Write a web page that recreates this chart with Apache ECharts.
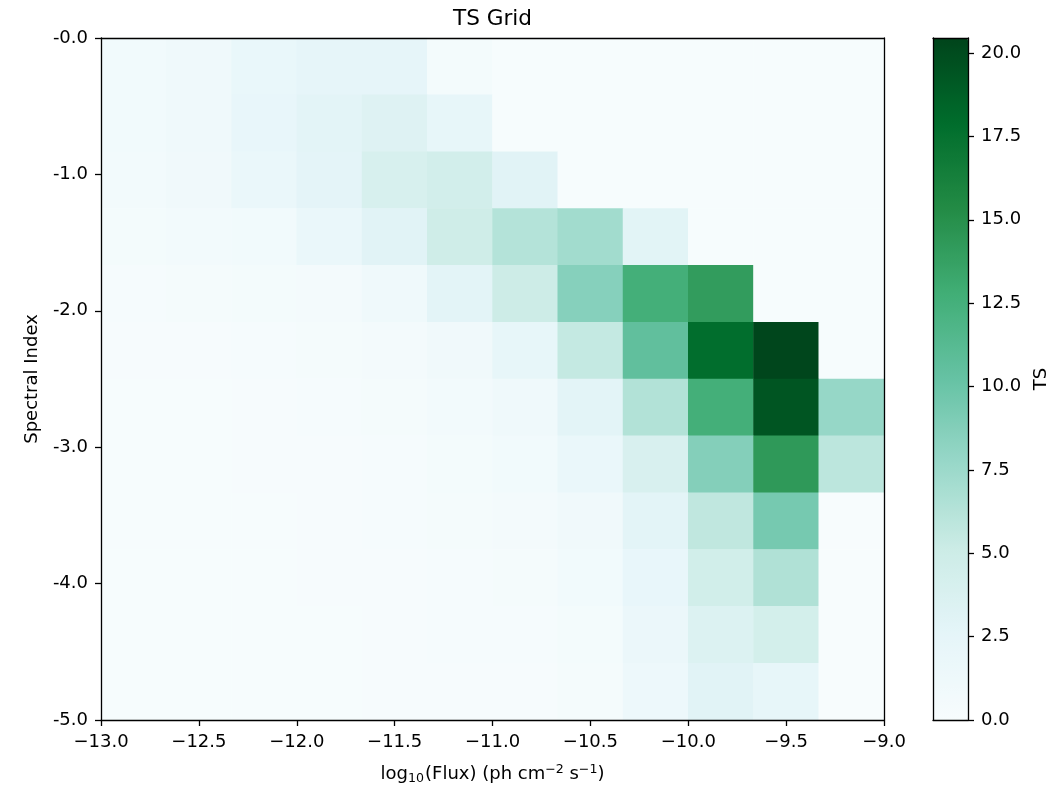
<!DOCTYPE html>
<html>
<head>
<meta charset="utf-8">
<script src="https://cdn.jsdelivr.net/npm/echarts@6/dist/echarts.min.js"></script>
<style>
  html, body { margin: 0; padding: 0; background: #fff; }
  #chart { width: 1055px; height: 787px; }
</style>
</head>
<body>
<div id="chart"></div>
<script>
// cell centres (log10 flux, spectral index)
const fluxBins = ['-12.83', '-12.50', '-12.17', '-11.83', '-11.50', '-11.17',
                  '-10.83', '-10.50', '-10.17', '-9.83', '-9.50', '-9.17'];
const indexBins = ['-0.21', '-0.63', '-1.04', '-1.46', '-1.88', '-2.29',
                   '-2.71', '-3.13', '-3.54', '-3.96', '-4.38', '-4.79'];

// TS values, one row per spectral index bin (top to bottom)
const tsRow0  = [0.8, 1.2, 2.0, 2.4, 2.4, 0.5, 0.1, 0.1, 0.1, 0.1, 0.1, 0.1];
const tsRow1  = [0.8, 1.2, 2.2, 2.8, 3.3, 2.3, 0.1, 0.1, 0.1, 0.1, 0.1, 0.1];
const tsRow2  = [0.7, 1.0, 1.8, 2.7, 4.0, 4.5, 3.0, 0.1, 0.1, 0.1, 0.1, 0.1];
const tsRow3  = [0.5, 0.7, 0.9, 1.8, 3.0, 4.8, 6.3, 7.2, 2.9, 0.1, 0.1, 0.1];
const tsRow4  = [0.3, 0.4, 0.5, 0.6, 1.2, 2.8, 5.0, 8.6, 12.6, 14.1, 0.1, 0.1];
const tsRow5  = [0.2, 0.2, 0.3, 0.4, 0.6, 1.0, 2.3, 5.5, 10.6, 17.8, 20.3, 0.1];
const tsRow6  = [0.1, 0.1, 0.2, 0.3, 0.4, 0.7, 1.2, 2.8, 6.4, 12.6, 19.4, 7.8];
const tsRow7  = [0.1, 0.1, 0.2, 0.2, 0.3, 0.5, 0.8, 1.8, 3.9, 8.7, 14.3, 5.9];
const tsRow8  = [0.1, 0.1, 0.1, 0.2, 0.3, 0.4, 0.6, 1.0, 2.8, 5.7, 9.4, 0.0];
const tsRow9  = [0.1, 0.1, 0.1, 0.2, 0.2, 0.3, 0.4, 0.8, 2.2, 4.6, 6.5, 0.0];
const tsRow10 = [0.1, 0.1, 0.1, 0.1, 0.2, 0.3, 0.3, 0.5, 1.7, 3.5, 4.4, 0.0];
const tsRow11 = [0.1, 0.1, 0.1, 0.1, 0.2, 0.2, 0.2, 0.4, 1.4, 3.0, 2.3, 0.0];
const tsRows = [tsRow0, tsRow1, tsRow2, tsRow3, tsRow4, tsRow5,
                tsRow6, tsRow7, tsRow8, tsRow9, tsRow10, tsRow11];

const tsMax = 20.45;
const fluxRange = [-13, -9];
const indexRange = [-5, 0];
// matplotlib BuGn
const buGn = ['#f7fcfd', '#e5f5f9', '#ccece6', '#99d8c9', '#66c2a4',
              '#41ae76', '#238b45', '#006d2c', '#00441b'];

const font = 'DejaVu Sans';
const ink = '#000';

let cells = [];
tsRows.forEach((row, yi) => {
  row.forEach((v, xi) => {
    cells.push([xi, yi, v]);
  });
});

const lineStyle = { color: ink, width: 1.3 };
// plain line used for the frame of the plot and the colorbar
function spine(grid, pos, range) {
  return {
    type: 'value', gridIndex: grid, position: pos, zlevel: 1, z: 10,
    min: range[0], max: range[1],
    axisLine: { show: true, onZero: false, lineStyle: lineStyle },
    axisTick: { show: false }, axisLabel: { show: false }, splitLine: { show: false }
  };
}

let option = {
  backgroundColor: '#fff',
  animation: false,
  title: {
    text: 'TS Grid',
    left: 492.5,
    top: 8,
    textAlign: 'center',
    padding: 0,
    textStyle: { fontFamily: font, fontSize: 21.6, fontWeight: 'normal', color: ink }
  },
  grid: [
    { left: 101, top: 38, width: 783, height: 682, outerBoundsMode: 'none' },
    { left: 933, top: 38, width: 35, height: 682, outerBoundsMode: 'none' }
  ],
  xAxis: [
    // cells
    { type: 'category', gridIndex: 0, data: fluxBins, position: 'bottom', show: false },
    // visible flux axis
    {
      type: 'value', gridIndex: 0, position: 'bottom', zlevel: 1, z: 10,
      min: fluxRange[0], max: fluxRange[1], interval: 0.5,
      axisLine: { show: true, onZero: false, lineStyle: lineStyle },
      axisTick: { show: true, inside: false, length: 6, lineStyle: lineStyle },
      splitLine: { show: false },
      axisLabel: {
        margin: 13, color: ink, fontFamily: font, fontSize: 18,
        formatter: v => v.toFixed(1).replace('-', '\u2212')
      },
      name: '{n|log}{s|10}{n|(Flux) (ph cm}{p|\u22122}{n| s}{p|\u22121}{n|)}',
      nameLocation: 'middle',
      nameGap: 43,
      nameTextStyle: {
        color: ink, fontFamily: font, fontSize: 18,
        rich: {
          n: { fontFamily: font, fontSize: 18, color: ink },
          s: { fontFamily: font, fontSize: 12.6, color: ink, padding: [9, 1, 0, 0] },
          p: { fontFamily: font, fontSize: 12.6, color: ink, padding: [0, 0, 10, 0] }
        }
      }
    },
    spine(0, 'top', fluxRange),
    spine(1, 'bottom', [0, 1]),
    spine(1, 'top', [0, 1])
  ],
  yAxis: [
    { type: 'category', gridIndex: 0, data: indexBins, inverse: true, position: 'left', show: false },
    {
      type: 'value', gridIndex: 0, position: 'left', zlevel: 1, z: 10,
      min: indexRange[0], max: indexRange[1], interval: 1,
      axisLine: { show: true, onZero: false, lineStyle: lineStyle },
      axisTick: { show: true, inside: false, length: 6, lineStyle: lineStyle },
      splitLine: { show: false },
      axisLabel: {
        margin: 13, color: ink, fontFamily: font, fontSize: 18,
        formatter: v => '-' + Math.abs(v).toFixed(1)
      },
      name: 'Spectral Index',
      nameLocation: 'middle',
      nameGap: 60,
      nameRotate: 90,
      nameTextStyle: { color: ink, fontFamily: font, fontSize: 18 }
    },
    spine(0, 'right', indexRange),
    // colorbar ticks
    {
      type: 'value', gridIndex: 1, position: 'right', zlevel: 1, z: 10,
      min: 0, max: tsMax, interval: 2.5,
      axisLine: { show: true, onZero: false, lineStyle: lineStyle },
      axisTick: { show: true, inside: false, length: 6, lineStyle: lineStyle },
      splitLine: { show: false },
      axisLabel: {
        margin: 13, color: ink, fontFamily: font, fontSize: 18,
        formatter: v => v.toFixed(1)
      },
      name: 'TS',
      nameLocation: 'middle',
      nameGap: 64,
      nameRotate: 90,
      nameTextStyle: { color: ink, fontFamily: font, fontSize: 18 }
    },
    spine(1, 'left', [0, 1])
  ],
  visualMap: {
    type: 'continuous',
    seriesIndex: 0,
    min: 0,
    max: tsMax,
    left: 933,
    top: 38,
    padding: 0,
    z: 1,
    itemWidth: 35,
    itemHeight: 682,
    calculable: false,
    hoverLink: false,
    text: null,
    showLabel: false,
    inRange: { color: buGn }
  },
  series: [{
    type: 'heatmap',
    xAxisIndex: 0,
    yAxisIndex: 0,
    data: cells,
    itemStyle: { borderWidth: 0 },
    emphasis: { disabled: true },
    label: { show: false }
  }]
};

let chart = echarts.init(document.getElementById('chart'));
chart.setOption(option);
</script>
</body>
</html>
